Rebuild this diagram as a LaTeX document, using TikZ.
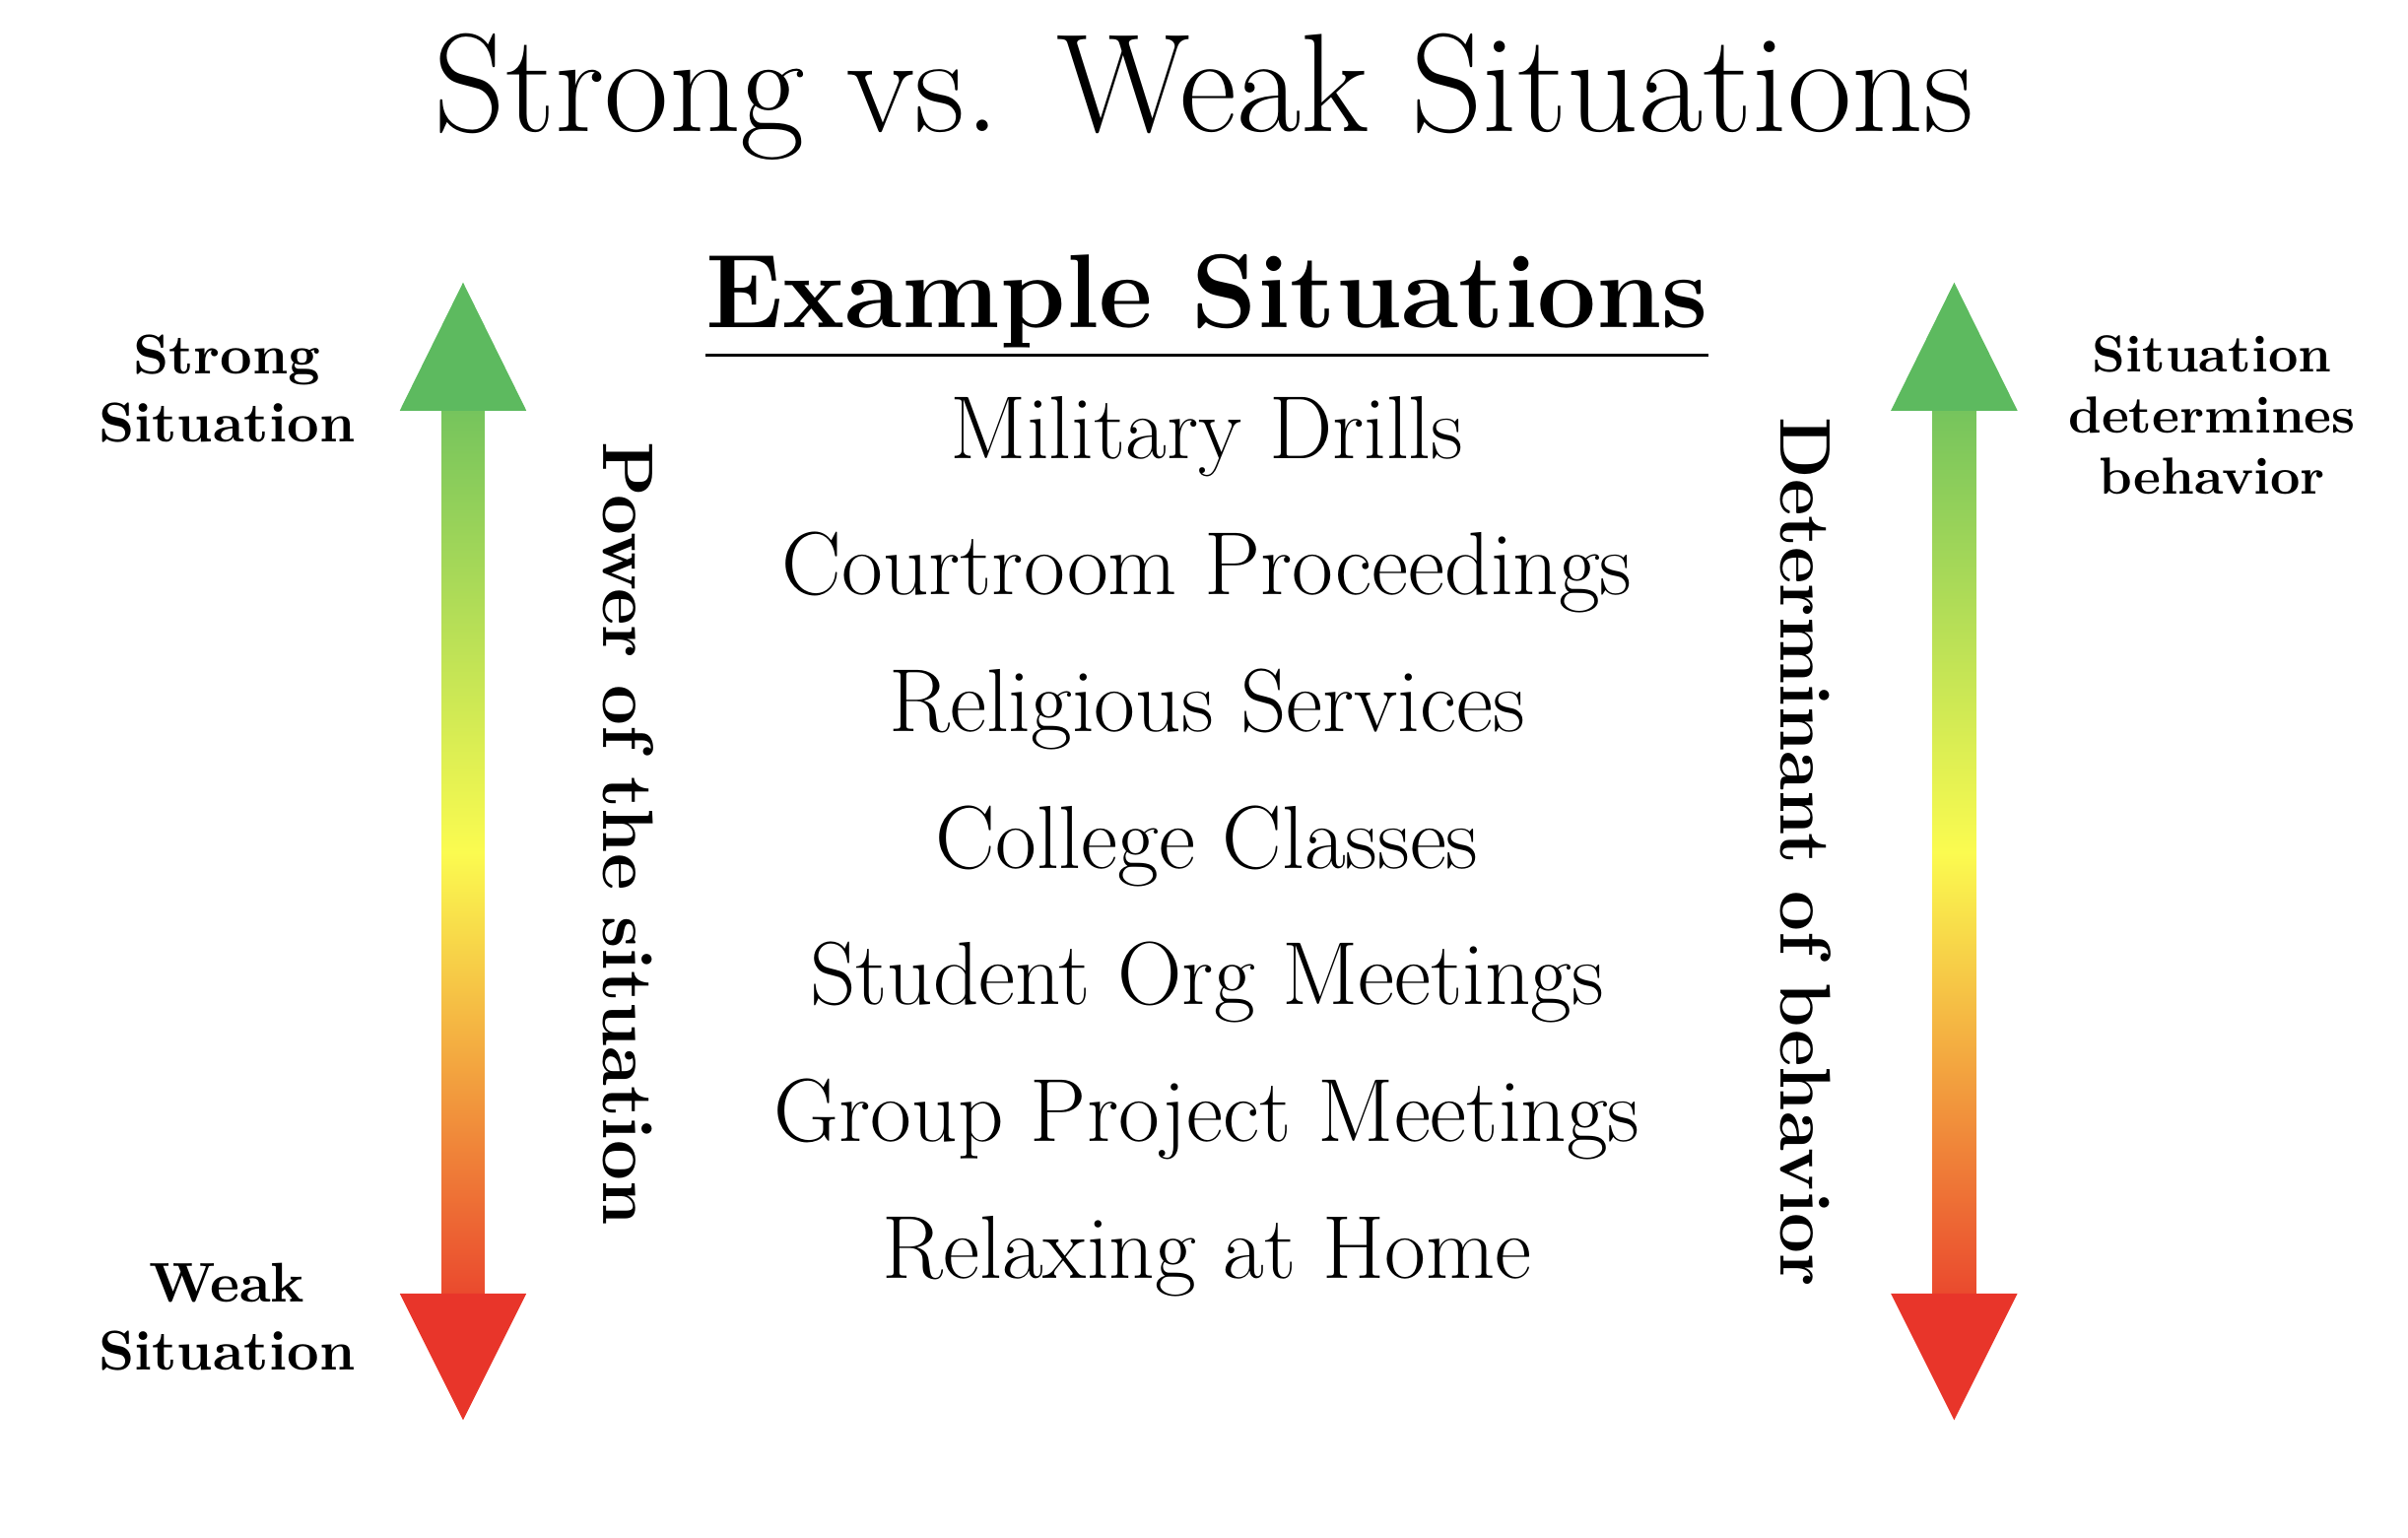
\documentclass[tikz,border=0pt]{standalone}
\begin{document}
\begin{tikzpicture}[x=0.01cm,y=-0.01cm,
  item/.style={font=\fontsize{16.5}{20}\selectfont, anchor=base},
  side/.style={font=\fontsize{10.3}{12.6}\selectfont\bfseries, align=center},
  rot/.style={font=\fontsize{13.2}{16}\selectfont\bfseries, rotate=-90}]
\useasboundingbox (0,0) rectangle (1560,996);
\definecolor{gtop}{HTML}{5DBA5F}
\definecolor{ymid}{HTML}{FBFB50}
\definecolor{rbot}{HTML}{E8352A}
\node[font=\fontsize{25.8}{30}\selectfont, anchor=base] (title) at (780,85) {Strong vs. Weak Situations};
\node[font=\fontsize{19.3}{23}\selectfont\bfseries, anchor=base] (hdr) at (782,212) {\underline{Example Situations}};
\foreach \t [count=\i] in {Military Drills,Courtroom Proceedings,Religious Services,College Classes,Student Org Meetings,Group Project Meetings,Relaxing at Home}
  \node[item] (it\i) at (782,{297+(\i-1)*88.5}) {\t};
\foreach \x/\n in {300/L,1266/R}{
  \shade[top color=gtop!85!ymid, bottom color=rbot!90!ymid, middle color=ymid] (\x-14,264) rectangle (\x+14,840);
  \fill[gtop] (\x,183) -- (\x+41,266) -- (\x-41,266) -- cycle;
  \fill[rbot] (\x,920) -- (\x+41,838) -- (\x-41,838) -- cycle;
  \coordinate (arr\n) at (\x,550);
}
\node[side] (strong) at (147,252) {Strong\\Situation};
\node[side] (weak) at (147,853) {Weak\\Situation};
\node[side, font=\fontsize{9.6}{11.3}\selectfont\bfseries] (det) at (1433,269) {Situation\\determines\\behavior};
\node[rot] (power) at (407,540) {Power of the situation};
\node[rot] (detb) at (1170,552) {Determinant of behavior};
\end{tikzpicture}
\end{document}
